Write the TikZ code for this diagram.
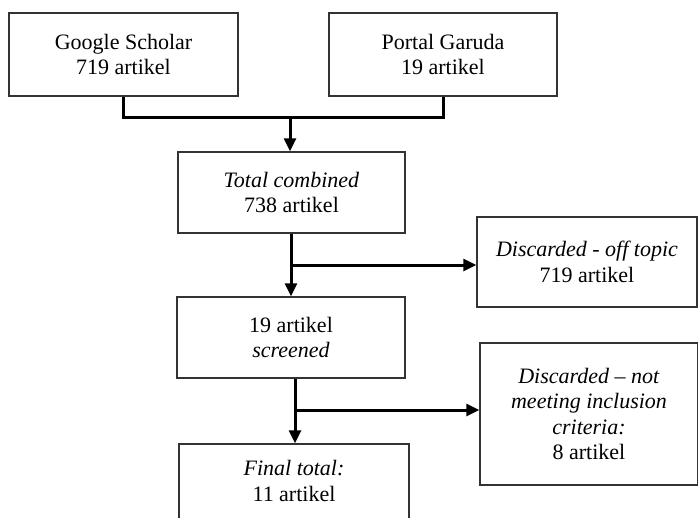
\documentclass[tikz,border=0pt]{standalone}
\usepackage{fontspec}
\setmainfont{Liberation Serif}
\usetikzlibrary{arrows.meta}
\begin{document}
\begin{tikzpicture}[x=1pt,y=-1pt,
  box/.style={draw=black!80, line width=1.4pt, rectangle, inner sep=0pt, align=center,
    font=\fontsize{22}{25.5}\selectfont},
  conn/.style={line width=3pt, black},
  arr/.style={conn, -{Triangle[length=13pt,width=12pt]}}]
\useasboundingbox (0,0) rectangle (698,517);
\clip (0,0) rectangle (698,517);
\node[box, minimum width=229pt, minimum height=83pt] (gs) at (123.5,54.5) {Google Scholar\\719 artikel};
\node[box, minimum width=228pt, minimum height=83pt] (pg) at (443,54.5) {Portal Garuda\\19 artikel};
\node[box, minimum width=227pt, minimum height=81pt] (tc) at (291.5,192.5) {\textit{Total combined}\\738 artikel};
\node[box, minimum width=220pt, minimum height=90pt] (d1) at (587,262) {\textit{Discarded - off topic}\\719 artikel};
\node[box, minimum width=228pt, minimum height=81pt] (sc) at (291,337.5) {19 artikel\\\textit{screened}};
\node[box, minimum width=218pt, minimum height=142pt] (d2) at (589,414) {\textit{Discarded -- not}\\\textit{meeting inclusion}\\\textit{criteria:}\\8 artikel};
\node[box, minimum width=230pt, minimum height=100pt] (ft) at (294,494) {};
\node[font=\fontsize{22}{25.5}\selectfont, align=center] (ftt) at (294,481) {\textit{Final total:}\\11 artikel};
\coordinate (j1) at (290,117);
\coordinate (b1) at (291,265);
\coordinate (b2) at (295,410);
\draw[conn] (gs.south) |- (j1) -| (pg.south);
\draw[arr] (j1) -- (tc.north -| j1);
\draw[arr] (tc.south -| b1) -- (sc.north -| b1);
\draw[arr] (b1) -- (b1 -| d1.west);
\draw[arr] (sc.south -| b2) -- (ft.north -| b2);
\draw[arr] (b2) -- (b2 -| d2.west);
\end{tikzpicture}
\end{document}
